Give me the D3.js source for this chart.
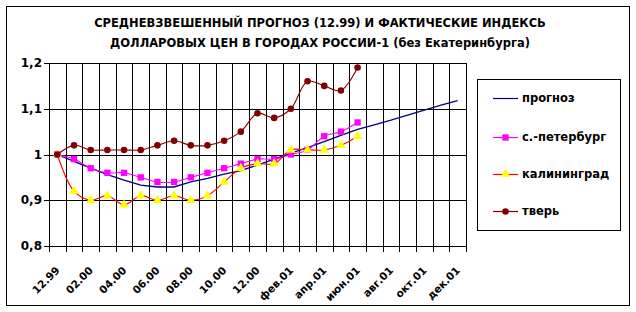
<!DOCTYPE html>
<html><head><meta charset="utf-8">
<script src="https://cdn.jsdelivr.net/npm/d3@7/dist/d3.min.js"></script>
<style>
body{margin:0;background:#fff;}
text{font-family:"DejaVu Sans",Arial,sans-serif;font-weight:bold;fill:#000;}
</style></head>
<body><svg id="c" width="636" height="312"></svg>
<script>
const categories = ["12.99","01.00","02.00","03.00","04.00","05.00","06.00","07.00","08.00","09.00","10.00","11.00","12.00",
  "янв.01","фев.01","мар.01","апр.01","май.01","июн.01","июл.01","авг.01","сен.01","окт.01","ноя.01","дек.01"];
const tickLabels = ["12.99","02.00","04.00","06.00","08.00","10.00","12.00","фев.01","апр.01","июн.01","авг.01","окт.01","дек.01"];
const prognoz = [1.0,0.985,0.97,0.956,0.944,0.933,0.929,0.929,0.94,0.948,0.957,0.965,0.977,0.99,1.003,1.015,1.028,1.042,1.055,1.065,1.075,1.086,1.097,1.108,1.118];
const spb = [1.0,0.99,0.97,0.96,0.96,0.95,0.94,0.94,0.95,0.96,0.97,0.98,0.99,0.99,1.0,1.01,1.04,1.05,1.07];
const kaliningrad = [1.0,0.92,0.9,0.91,0.89,0.91,0.9,0.91,0.9,0.91,0.94,0.97,0.98,0.98,1.01,1.01,1.01,1.02,1.04];
const tver = [1.0,1.02,1.01,1.01,1.01,1.01,1.02,1.03,1.02,1.02,1.03,1.05,1.09,1.08,1.1,1.16,1.15,1.14,1.19];
const yTicks = [0.8,0.9,1,1.1,1.2];
const yTickLabels = ["0,8","0,9","1","1,1","1,2"];
const seriesNames = ["прогноз","с.-петербург","калининград","тверь"];
const titleLines = ["СРЕДНЕВЗВЕШЕННЫЙ ПРОГНОЗ (12.99) И ФАКТИЧЕСКИЕ ИНДЕКСЬ","ДОЛЛАРОВЫХ ЦЕН В ГОРОДАХ РОССИИ-1  (без Екатеринбурга)"];

const svg = d3.select("#c");
const L=49, R=466, T=63, B=246;
const x = d3.scaleBand().domain(categories).range([L,R]);
const y = d3.scaleLinear().domain([0.8,1.2]).range([B,T]);
const cx = i => x(categories[i]) + x.bandwidth()/2;
const px = v => Math.round(v)+0.5;

svg.append("rect").attr("x",6.5).attr("y",6.5).attr("width",623).attr("height",299).attr("fill","#fff").attr("stroke","#000");

// title
svg.selectAll("text.title").data(titleLines).enter().append("text")
  .attr("x",320).attr("y",(d,i)=>27+i*20).attr("text-anchor","middle")
  .style("font-size","11.5px").text(d=>d);

const g = svg.append("g");
// horizontal grid + y ticks
yTicks.forEach((v,i)=>{
  g.append("line").attr("x1",L-5).attr("x2",R).attr("y1",px(y(v))).attr("y2",px(y(v))).attr("stroke","#000");
  g.append("text").attr("x",42).attr("y",y(v)).attr("dy","0.35em").attr("text-anchor","end")
    .style("font-size","12px").text(yTickLabels[i]);
});
// vertical grid at category boundaries + ticks
const bounds = categories.map(c=>x(c)).concat([R]);
bounds.forEach(b=>{
  g.append("line").attr("x1",px(b)).attr("x2",px(b)).attr("y1",T).attr("y2",B+6).attr("stroke","#000");
});
g.append("line").attr("x1",L).attr("x2",R+0.5).attr("y1",px(y(0.8))).attr("y2",px(y(0.8))).attr("stroke","#000");

// x labels
tickLabels.forEach((t,k)=>{
  const i = categories.indexOf(t);
  g.append("text").attr("transform",`translate(${cx(i)+3},${B+25}) rotate(-45)`)
    .attr("text-anchor","end").style("font-size","10.5px").text(t);
});

const curve = d3.curveCatmullRom.alpha(0.5);
const line = d3.line().x((d,i)=>cx(i)).y(d=>y(d));
g.append("path").datum(prognoz).attr("d",line.curve(d3.curveLinear)).attr("fill","none").attr("stroke","#000080").attr("stroke-width",1.3);
g.append("path").datum(spb).attr("d",line.curve(curve)).attr("fill","none").attr("stroke","#ff00ff").attr("stroke-width",1.1);
g.append("path").datum(kaliningrad).attr("d",line.curve(curve)).attr("fill","none").attr("stroke","#ff0000").attr("stroke-width",1.1);
g.append("path").datum(tver).attr("d",line.curve(curve)).attr("fill","none").attr("stroke","#800000").attr("stroke-width",1.1);

const sq = d3.symbol().type(d3.symbolSquare).size(40);
const tri = d3.symbol().type(d3.symbolTriangle).size(38);
const circ = d3.symbol().type(d3.symbolCircle).size(34);
g.selectAll("path.spb").data(spb).enter().append("path").attr("d",sq).attr("transform",(d,i)=>`translate(${cx(i)},${y(d)})`).attr("fill","#ff00ff");
g.selectAll("path.kal").data(kaliningrad).enter().append("path").attr("d",tri).attr("transform",(d,i)=>`translate(${cx(i)},${y(d)})`).attr("fill","#ffff00");
g.selectAll("path.tv").data(tver).enter().append("path").attr("d",circ).attr("transform",(d,i)=>`translate(${cx(i)},${y(d)})`).attr("fill","#800000");

// legend
const lg = svg.append("g");
lg.append("rect").attr("x",477.5).attr("y",79.5).attr("width",143).attr("height",151).attr("fill","#fff").attr("stroke","#000");
const lgY = [98,137,174,211];
const lgColors = ["#000080","#ff00ff","#ff0000","#800000"];
seriesNames.forEach((n,i)=>{
  lg.append("line").attr("x1",493).attr("x2",518).attr("y1",lgY[i]+0.5).attr("y2",lgY[i]+0.5).attr("stroke",lgColors[i]).attr("stroke-width",1.2);
  lg.append("text").attr("x",522).attr("y",lgY[i]).attr("dy","0.35em").style("font-size","11.5px").text(n);
});
lg.append("path").attr("d",sq).attr("transform",`translate(505.5,${lgY[1]+0.5})`).attr("fill","#ff00ff");
lg.append("path").attr("d",tri).attr("transform",`translate(505.5,${lgY[2]})`).attr("fill","#ffff00");
lg.append("path").attr("d",circ).attr("transform",`translate(505.5,${lgY[3]+0.5})`).attr("fill","#800000");
</script></body></html>
